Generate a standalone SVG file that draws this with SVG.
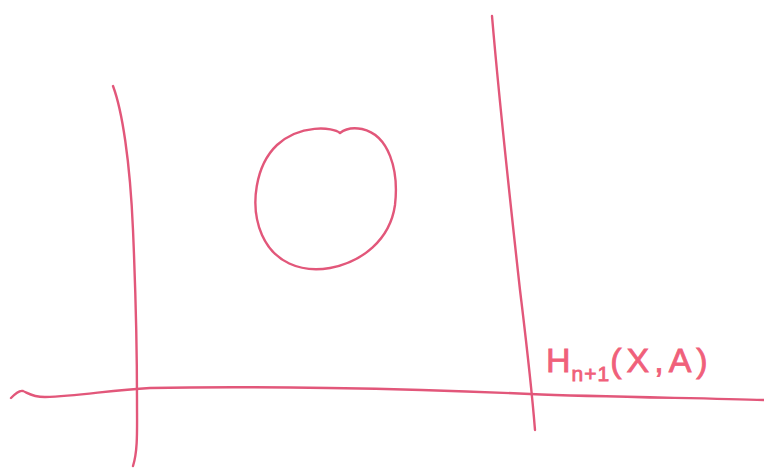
<svg xmlns="http://www.w3.org/2000/svg" width="764" height="468" viewBox="0 0 764 468">
<style>
.ink{fill:none;stroke:#e2577a;stroke-width:2.4;stroke-linecap:round;stroke-linejoin:round}
.lbl{fill:#f0607a;stroke:#f0607a;stroke-width:0.8;font-family:"Liberation Sans",Arial,sans-serif}
</style>
<rect width="764" height="468" fill="#ffffff"/>
<g id="shapes">
<path id="left-wall" class="ink" d="M113,86 C122,110 130,160 133,230 C136,300 137,360 137,400 C137,430 138,450 133,466"/>
<path id="right-wall" class="ink" d="M492,16 C500,110 510,200 520,290 C526,340 531,380 535,430"/>
<path id="baseline" class="ink" d="M11,398 C15,394 19,390 23,391 C28,393 32,397 45,397 C80,396 110,390 150,388 C250,386 400,388 530,394 C600,397 700,398 764,400"/>
<path id="hole" class="ink" d="M340,133 C333,127 300,124 277,145 C256,165 249,205 262,235 C274,262 300,273 330,268 C362,262 390,240 395,205 C399,170 389,135 362,129 C352,127 345,129 340,133 Z"/>
</g>
<g id="label">
<text class="lbl" x="546" y="372" font-size="34" letter-spacing="1">H<tspan font-size="21" dy="9">n+1</tspan><tspan dy="-9" letter-spacing="5">(X,A)</tspan></text>
</g>
</svg>
